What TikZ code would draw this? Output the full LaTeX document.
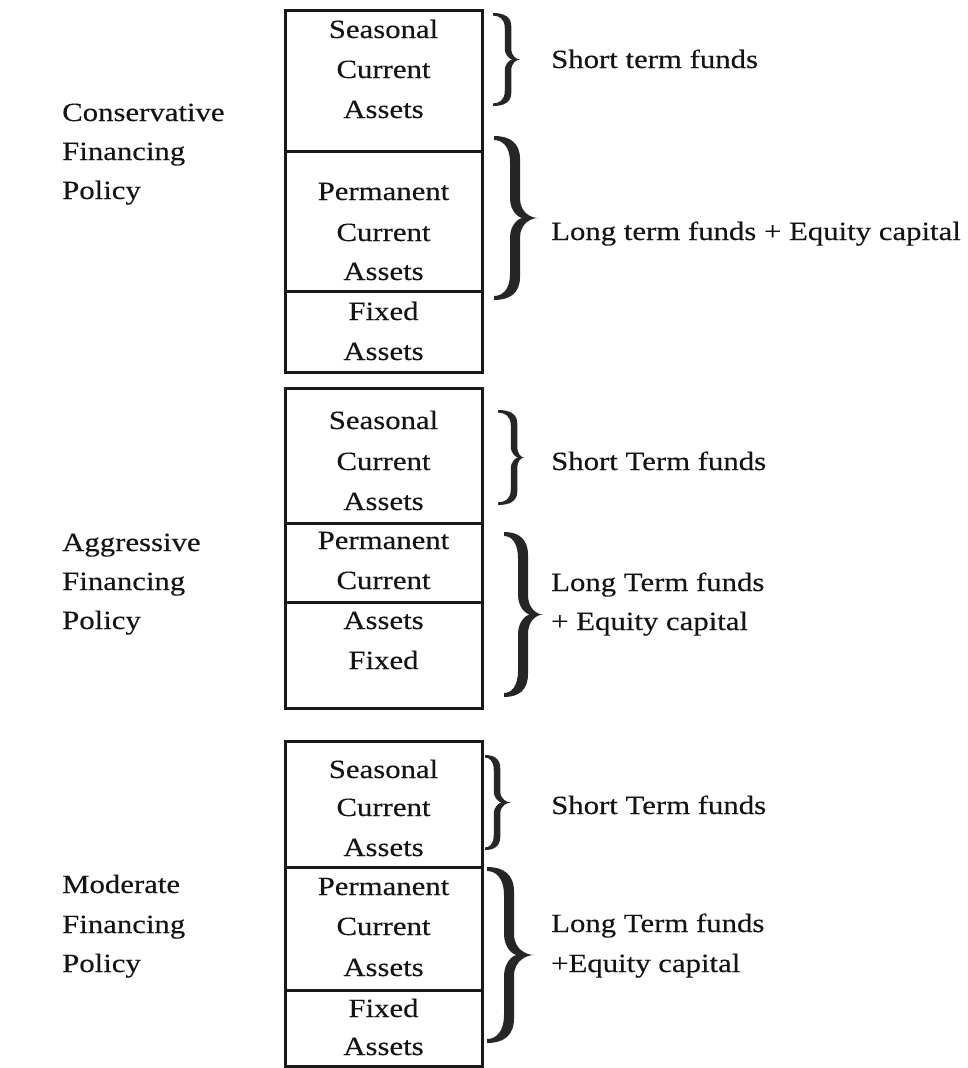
\documentclass[tikz,border=0pt]{standalone}
\usepackage{fontspec}
\setmainfont{Liberation Serif}[FakeStretch=1.17, FakeBold=0.25]

% Filled right-hand curly brace.
% #1 x of the curled ends, #2 top y, #3 bottom y, #4 x of the stem,
% #5 x of the point, #6 stem thickness (y grows downwards).
\newcommand\fundbrace[6]{%
  \pgfmathsetmacro\bxa{#1}%
  \pgfmathsetmacro\bya{#2}%
  \pgfmathsetmacro\byb{#3}%
  \pgfmathsetmacro\bym{(#2+#3)/2}%
  \pgfmathsetmacro\bh{#3-#2}%
  \pgfmathsetmacro\bxr{#4+#6/2}%
  \pgfmathsetmacro\bxl{#4-#6/2}%
  \pgfmathsetmacro\bxt{#5}%
  \pgfmathsetmacro\bxn{\bxr+0.15*(\bxt-\bxr)}%
  \pgfmathsetmacro\be{0.4*#6}%
  \fill[black!85]
    (\bxa,\bya)
      .. controls ({\bxa+0.6*(\bxr-\bxa)},\bya) and (\bxr,{\bya+0.04*\bh}) .. (\bxr,{\bya+0.14*\bh})
      -- (\bxr,{\bym-0.12*\bh})
      .. controls (\bxr,{\bym-0.03*\bh}) and ({\bxt-0.35*(\bxt-\bxr)},\bym) .. (\bxt,\bym)
      .. controls ({\bxt-0.35*(\bxt-\bxr)},\bym) and (\bxr,{\bym+0.03*\bh}) .. (\bxr,{\bym+0.12*\bh})
      -- (\bxr,{\byb-0.14*\bh})
      .. controls (\bxr,{\byb-0.04*\bh}) and ({\bxa+0.6*(\bxr-\bxa)},\byb) .. (\bxa,\byb)
      -- (\bxa,{\byb-\be})
      .. controls ({\bxa+0.5*(\bxl-\bxa)},{\byb-\be}) and (\bxl,{\byb-0.06*\bh}) .. (\bxl,{\byb-0.16*\bh})
      -- (\bxl,{\bym+0.12*\bh})
      .. controls (\bxl,{\bym+0.04*\bh}) and ({\bxn-0.3*(\bxn-\bxl)},\bym) .. (\bxn,\bym)
      .. controls ({\bxn-0.3*(\bxn-\bxl)},\bym) and (\bxl,{\bym-0.04*\bh}) .. (\bxl,{\bym-0.12*\bh})
      -- (\bxl,{\bya+0.16*\bh})
      .. controls (\bxl,{\bya+0.06*\bh}) and ({\bxa+0.5*(\bxl-\bxa)},{\bya+\be}) .. (\bxa,{\bya+\be})
      -- cycle;
}

\begin{document}
\begin{tikzpicture}[x=1pt,y=-1pt,
  txt/.style={font=\fontsize{26.3pt}{40pt}\selectfont, inner sep=0pt, text=black!92},
  cell/.style={txt, anchor=base},
  side/.style={txt, anchor=base west},
  sect/.style={draw=black!90, line width=3pt, minimum width=197pt, inner sep=0pt,
               outer sep=0pt, anchor=north west}]

% page
\fill[white] (0,0) rectangle (968,1068);
\useasboundingbox (0,0) rectangle (968,1068);

% ---------- Conservative ----------
\node[sect, minimum height=141pt] (c1) at (285,10)  {};
\node[sect, minimum height=140pt] (c2) at (285,151) {};
\node[sect, minimum height=81pt]  (c3) at (285,291) {};

\node[cell] (c1a) at (383.5,38)  {Seasonal};
\node[cell] (c1b) at (383.5,78)  {Current};
\node[cell] (c1c) at (383.5,118) {Assets};
\node[cell] (c2a) at (383.5,200) {Permanent};
\node[cell] (c2b) at (383.5,241) {Current};
\node[cell] (c2c) at (383.5,280) {Assets};
\node[cell] (c3a) at (383.5,320) {Fixed};
\node[cell] (c3b) at (383.5,360) {Assets};

\node[side] (cl1) at (62,121) {Conservative};
\node[side] (cl2) at (62,160) {Financing};
\node[side] (cl3) at (62,199) {Policy};

\fundbrace{493}{13}{106}{508}{520}{6.5}
\fundbrace{494}{136}{300}{515}{538}{10}
\node[side] (cr1) at (551,68)  {Short term funds};
\node[side] (cr2) at (551,240) {Long term funds + Equity capital};

% ---------- Aggressive ----------
\node[sect, minimum height=135pt] (a1) at (285,388) {};
\node[sect, minimum height=79pt]  (a2) at (285,523) {};
\node[sect, minimum height=106pt] (a3) at (285,602) {};

\node[cell] (a1a) at (383.5,429) {Seasonal};
\node[cell] (a1b) at (383.5,470) {Current};
\node[cell] (a1c) at (383.5,510) {Assets};
\node[cell] (a2a) at (383.5,549) {Permanent};
\node[cell] (a2b) at (383.5,589) {Current};
\node[cell] (a3a) at (383.5,629) {Assets};
\node[cell] (a3b) at (383.5,669) {Fixed};

\node[side] (al1) at (62,551) {Aggressive};
\node[side] (al2) at (62,590) {Financing};
\node[side] (al3) at (62,629) {Policy};

\fundbrace{498}{410}{505}{514}{524}{6.5}
\fundbrace{504}{532}{697}{523}{543}{10}
\node[side] (ar1) at (551,470) {Short Term funds};
\node[side] (ar2) at (551,591) {Long Term funds};
\node[side] (ar3) at (551,630) {+ Equity capital};

% ---------- Moderate ----------
\node[sect, minimum height=126pt] (m1) at (285,741) {};
\node[sect, minimum height=123pt] (m2) at (285,867) {};
\node[sect, minimum height=76pt]  (m3) at (285,990) {};

\node[cell] (m1a) at (383.5,778)  {Seasonal};
\node[cell] (m1b) at (383.5,816)  {Current};
\node[cell] (m1c) at (383.5,856)  {Assets};
\node[cell] (m2a) at (383.5,895)  {Permanent};
\node[cell] (m2b) at (383.5,935)  {Current};
\node[cell] (m2c) at (383.5,976)  {Assets};
\node[cell] (m3a) at (383.5,1017) {Fixed};
\node[cell] (m3b) at (383.5,1055) {Assets};

\node[side] (ml1) at (62,893) {Moderate};
\node[side] (ml2) at (62,933) {Financing};
\node[side] (ml3) at (62,972) {Policy};

\fundbrace{485}{755}{850}{497}{511}{6.5}
\fundbrace{487}{867}{1043}{509}{534}{10}
\node[side] (mr1) at (551,814) {Short Term funds};
\node[side] (mr2) at (551,932) {Long Term funds};
\node[side] (mr3) at (551,972) {+Equity capital};
\end{tikzpicture}
\end{document}
